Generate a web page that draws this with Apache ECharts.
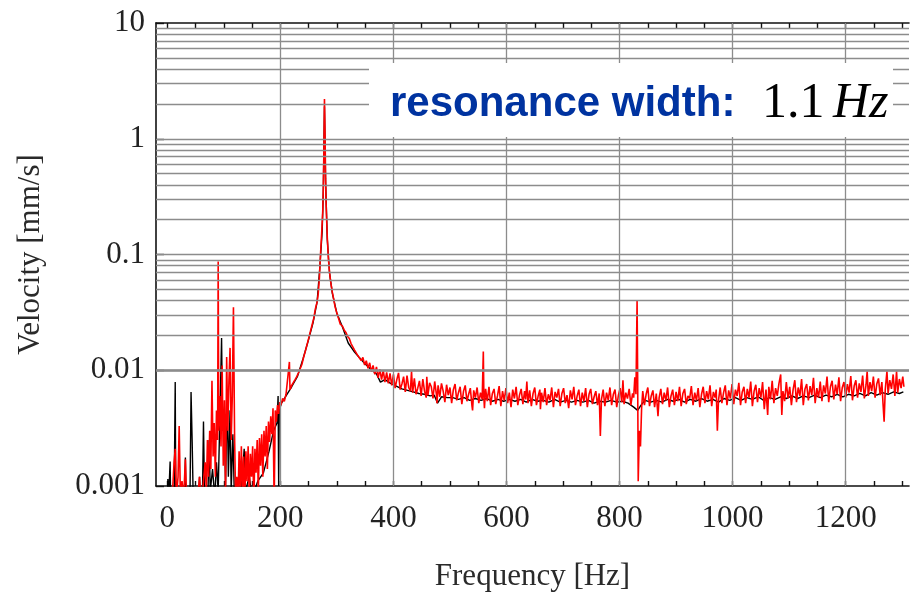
<!DOCTYPE html>
<html>
<head>
<meta charset="utf-8">
<title>Velocity spectrum</title>
<script src="https://cdn.jsdelivr.net/npm/echarts@6.0.0/dist/echarts.min.js"></script>
<style>
  html, body { margin: 0; padding: 0; background: #fff; }
  #chart { width: 910px; height: 597px; }
</style>
</head>
<body>
<div id="chart"></div>
<script>
// axis ticks / grid lines
var freqTicks = [0, 50, 100, 150, 200, 250, 300, 350, 400, 450, 500, 550, 600, 650, 700, 750, 800, 850, 900, 950, 1000, 1050, 1100, 1150, 1200, 1250, 1300];
var freqLabels = [0, 200, 400, 600, 800, 1000, 1200];
var freqGrid = [200, 400, 600, 800, 1000, 1200];
var velGrid = [0.002, 0.003, 0.004, 0.005, 0.006, 0.007, 0.008, 0.009,
    0.01, 0.02, 0.03, 0.04, 0.05, 0.06, 0.07, 0.08, 0.09,
    0.1, 0.2, 0.3, 0.4, 0.5, 0.6, 0.7, 0.8, 0.9,
    1, 2, 3, 4, 5, 6, 7, 8, 9];

// black trace [Hz, mm/s]
var blackTrace = [
    [0, 0.0007], [1, 0.00115], [2, 0.0007], [4, 0.0007], [5, 0.00163], [6, 0.0007], [12, 0.0007], [14, 0.0079], [15, 0.0007],
    [30, 0.0007], [32, 0.00176], [33, 0.0007], [40, 0.0007], [42, 0.0065], [44, 0.0024], [46, 0.0007], [55, 0.0007], [57, 0.0012],
    [58, 0.0007], [62, 0.0007], [64, 0.0036], [66, 0.0007], [72, 0.0009], [74, 0.0025], [76, 0.0009], [80, 0.0014], [84, 0.0008],
    [87, 0.0016], [90, 0.0009], [93, 0.0040], [96, 0.019], [98, 0.0030], [101, 0.0037], [103, 0.0010], [106, 0.0060], [108, 0.0012],
    [111, 0.0045], [113, 0.0009], [116, 0.0028], [119, 0.0007], [128, 0.0007], [133, 0.0013], [136, 0.0021], [138, 0.0009],
    [145, 0.0012], [150, 0.0008], [160, 0.0011], [170, 0.0013], [180, 0.0020], [188, 0.0030], [194, 0.0035], [196, 0.0060],
    [197, 0.0010], [198, 0.0045], [202, 0.0052], [210, 0.0060], [220, 0.0072], [230, 0.0088], [240, 0.0125], [250, 0.0185],
    [258, 0.026], [265, 0.039], [270, 0.08], [274, 0.16], [276, 0.36], [278, 1.9], [280, 0.42], [283, 0.135], [287, 0.069],
    [292, 0.046], [300, 0.031], [310, 0.0235], [320, 0.0172], [330, 0.0146], [340, 0.0128], [350, 0.0113], [360, 0.0102],
    [370, 0.0093], [377, 0.0079], [385, 0.0083], [395, 0.0077], [405, 0.0073], [415, 0.0069], [425, 0.0067], [435, 0.0065],
    [445, 0.0063], [455, 0.0062], [465, 0.0060], [472, 0.0061], [478, 0.0052], [485, 0.0059], [495, 0.0058], [505, 0.0058],
    [515, 0.0056], [525, 0.0058], [535, 0.0055], [545, 0.0057], [555, 0.0055], [565, 0.0057], [575, 0.0054], [585, 0.0056],
    [595, 0.0054], [605, 0.0056], [615, 0.0054], [625, 0.0056], [635, 0.0053], [645, 0.0056], [655, 0.0054], [665, 0.0055],
    [675, 0.0053], [685, 0.0056], [695, 0.0053], [705, 0.0055], [715, 0.0053], [725, 0.0055], [735, 0.0053], [745, 0.0055],
    [755, 0.0052], [765, 0.0054], [775, 0.0053], [785, 0.0055], [795, 0.0053], [805, 0.0054], [815, 0.0052], [825, 0.0048],
    [832, 0.0045], [838, 0.0050], [845, 0.0055], [855, 0.0053], [865, 0.0055], [875, 0.0053], [885, 0.0056], [895, 0.0054],
    [905, 0.0056], [915, 0.0053], [925, 0.0056], [935, 0.0054], [945, 0.0057], [955, 0.0054], [965, 0.0056], [975, 0.0053],
    [985, 0.0057], [995, 0.0055], [1005, 0.0058], [1015, 0.0055], [1025, 0.0058], [1035, 0.0056], [1045, 0.0059], [1055, 0.0055],
    [1065, 0.0058], [1075, 0.0056], [1085, 0.0059], [1095, 0.0057], [1105, 0.0060], [1115, 0.0057], [1125, 0.0060], [1135, 0.0058],
    [1145, 0.0061], [1155, 0.0058], [1165, 0.0061], [1175, 0.0059], [1185, 0.0062], [1195, 0.0059], [1205, 0.0062], [1215, 0.0060],
    [1225, 0.0063], [1235, 0.0060], [1245, 0.0064], [1255, 0.0061], [1265, 0.0064], [1275, 0.0062], [1285, 0.0065], [1295, 0.0063],
    [1302, 0.0065]
];

// red trace [Hz, mm/s]
var redTrace = [
    [8, 0.0007], [12, 0.0016], [14, 0.0021], [16, 0.0008], [19, 0.0012], [21, 0.0033], [23, 0.0009], [26, 0.0011], [29, 0.0008],
    [32, 0.0017], [34, 0.0008], [40, 0.0009], [45, 0.0007], [50, 0.0009], [54, 0.0008], [57, 0.0012], [60, 0.0007], [64, 0.0011],
    [67, 0.0016], [69, 0.0009], [71, 0.0025], [73, 0.0012], [75, 0.0030], [77, 0.0014], [79, 0.0081], [81, 0.0018], [83, 0.0035],
    [85, 0.0012], [87, 0.0045], [89, 0.0025], [90, 0.087], [91, 0.0030], [93, 0.0060], [95, 0.0022], [97, 0.0110], [99, 0.0015],
    [101, 0.0055], [103, 0.0009], [105, 0.0130], [107, 0.0030], [109, 0.0080], [111, 0.0156], [113, 0.0025], [115, 0.0060],
    [117, 0.035], [119, 0.0027], [121, 0.0007], [123, 0.0012], [125, 0.0007], [127, 0.0020], [129, 0.0009], [131, 0.0022],
    [133, 0.0008], [135, 0.0018], [137, 0.0007], [139, 0.0020], [141, 0.0011], [143, 0.0022], [145, 0.0008], [147, 0.0019],
    [149, 0.0012], [151, 0.0022], [153, 0.0007], [155, 0.0021], [157, 0.0013], [159, 0.0025], [161, 0.0009], [163, 0.0026],
    [165, 0.0015], [167, 0.0028], [169, 0.0012], [171, 0.0030], [173, 0.0018], [175, 0.0033], [177, 0.0014], [179, 0.0036],
    [181, 0.0024], [183, 0.0040], [185, 0.0028], [187, 0.0047], [189, 0.0007], [191, 0.0045], [193, 0.0036], [195, 0.0050],
    [197, 0.0042], [199, 0.0053], [201, 0.0050], [204, 0.0057], [207, 0.0054], [210, 0.0062], [213, 0.0060], [216, 0.0118],
    [217, 0.0068], [220, 0.0074], [223, 0.0072], [226, 0.0083], [229, 0.0088], [232, 0.0095], [235, 0.0103], [238, 0.0112],
    [241, 0.0129], [244, 0.0145], [247, 0.0165], [250, 0.0188], [253, 0.0215], [256, 0.0245], [259, 0.0280], [262, 0.034],
    [265, 0.039], [267, 0.046], [269, 0.062], [271, 0.10], [273, 0.15], [275, 0.24], [276, 0.38], [277, 0.80], [278, 2.2],
    [279, 1.1], [280, 0.45], [281, 0.27], [282, 0.19], [283, 0.14], [285, 0.091], [287, 0.070], [289, 0.058], [292, 0.047],
    [294, 0.042], [297, 0.035], [300, 0.031], [303, 0.028], [306, 0.025], [310, 0.0240], [313, 0.0222], [316, 0.0212],
    [319, 0.0196], [322, 0.0188], [325, 0.0170], [328, 0.0165], [331, 0.0150], [334, 0.0150], [337, 0.0134], [340, 0.0138],
    [343, 0.0121], [346, 0.0129], [349, 0.0111], [352, 0.0121], [355, 0.0104], [358, 0.0116], [361, 0.0097], [364, 0.0110],
    [367, 0.0092], [370, 0.0107], [373, 0.0086], [376, 0.0102], [379, 0.0083], [382, 0.0100], [385, 0.0079], [388, 0.0096],
    [391, 0.0077], [394, 0.0094], [397, 0.0074],
    [400, 0.0092], [403, 0.0070], [406, 0.0083], [409, 0.0095], [412, 0.0068], [415, 0.0076], [418, 0.0088], [421, 0.0065],
    [424, 0.0090], [427, 0.0071], [430, 0.0066], [432, 0.0098], [434, 0.0064], [437, 0.0085], [440, 0.0062], [443, 0.0070],
    [446, 0.0081], [449, 0.0060], [452, 0.0084], [455, 0.0066], [458, 0.0058], [459, 0.0088], [461, 0.0061], [464, 0.0078],
    [467, 0.0072], [470, 0.0057], [473, 0.0080], [476, 0.0062], [477, 0.0052], [479, 0.0074], [482, 0.0059], [485, 0.0077],
    [488, 0.0066], [491, 0.0053], [494, 0.0075], [497, 0.0061], [500, 0.0071], [503, 0.0052], [506, 0.0068], [509, 0.0076],
    [512, 0.0055], [515, 0.0064], [518, 0.0072], [521, 0.0051], [524, 0.0066], [527, 0.0074], [530, 0.0054], [533, 0.0062],
    [536, 0.0070], [539, 0.0049], [540, 0.0045], [542, 0.0067], [545, 0.0058], [548, 0.0071], [551, 0.0052], [554, 0.0064],
    [557, 0.0056], [559, 0.0145], [560, 0.0058], [561, 0.0047], [563, 0.0069], [566, 0.0054], [569, 0.0072], [572, 0.0050],
    [575, 0.0063], [578, 0.0069], [581, 0.0051], [584, 0.0060], [587, 0.0073], [590, 0.0049], [593, 0.0066], [596, 0.0055],
    [599, 0.0070], [602, 0.0052], [605, 0.0064], [608, 0.0048], [611, 0.0068], [614, 0.0057], [617, 0.0072], [620, 0.0050],
    [623, 0.0061], [626, 0.0069], [629, 0.0051], [632, 0.0066], [634, 0.0056], [636, 0.0080], [638, 0.0052], [641, 0.0067],
    [644, 0.0049], [647, 0.0063], [650, 0.0071], [653, 0.0050], [656, 0.0060], [659, 0.0068], [660, 0.0046], [662, 0.0064],
    [665, 0.0053], [668, 0.0070], [671, 0.0050], [674, 0.0062], [677, 0.0055], [680, 0.0071], [683, 0.0048], [686, 0.0065],
    [689, 0.0058], [692, 0.0069], [695, 0.0049], [698, 0.0063], [701, 0.0070], [704, 0.0052], [707, 0.0061], [710, 0.0047],
    [713, 0.0067], [716, 0.0056], [719, 0.0072], [722, 0.0050], [725, 0.0060], [728, 0.0068], [731, 0.0049], [734, 0.0064],
    [737, 0.0054], [740, 0.0070], [743, 0.0048], [746, 0.0062], [749, 0.0069], [752, 0.0051], [755, 0.0059], [758, 0.0066],
    [761, 0.0050], [764, 0.0063], [766, 0.0027], [768, 0.0056], [771, 0.0068], [774, 0.0049], [777, 0.0064], [780, 0.0055],
    [783, 0.0071], [786, 0.0050], [789, 0.0062], [792, 0.0068], [795, 0.0048], [798, 0.0061], [801, 0.0070], [804, 0.0053],
    [806, 0.0082], [808, 0.0051], [811, 0.0064], [814, 0.0057], [817, 0.0069], [820, 0.0050], [823, 0.0063], [825, 0.0058],
    [827, 0.0087], [829, 0.0062], [831, 0.040], [832, 0.0090], [833, 0.0011], [835, 0.0030], [837, 0.0022], [839, 0.0047],
    [841, 0.0066], [844, 0.0050], [847, 0.0062], [850, 0.0071], [853, 0.0049], [856, 0.0060], [859, 0.0067], [862, 0.0048],
    [865, 0.0063], [868, 0.0040], [870, 0.0058], [873, 0.0069], [876, 0.0051], [879, 0.0064], [882, 0.0055], [885, 0.0071],
    [888, 0.0048], [891, 0.0060], [894, 0.0068], [897, 0.0050], [900, 0.0065], [903, 0.0054], [906, 0.0072], [909, 0.0049],
    [912, 0.0063], [915, 0.0069], [918, 0.0051], [921, 0.0060], [924, 0.0057], [927, 0.0073], [930, 0.0050], [933, 0.0064],
    [936, 0.0055], [939, 0.0070], [942, 0.0048], [945, 0.0062], [948, 0.0072], [951, 0.0052], [954, 0.0066], [957, 0.0056],
    [960, 0.0074], [963, 0.0049], [966, 0.0065], [969, 0.0058], [971, 0.0068], [973, 0.0030], [975, 0.0055], [978, 0.0071],
    [981, 0.0052], [984, 0.0064], [987, 0.0074], [990, 0.0050], [993, 0.0067], [996, 0.0057], [999, 0.0076], [1002, 0.0051],
    [1005, 0.0068], [1008, 0.0060], [1011, 0.0078], [1014, 0.0050], [1017, 0.0065], [1020, 0.0072], [1023, 0.0052], [1026, 0.0069],
    [1029, 0.0058], [1032, 0.0080], [1035, 0.0049], [1038, 0.0066], [1041, 0.0075], [1044, 0.0053], [1047, 0.0070], [1050, 0.0058],
    [1053, 0.0079], [1056, 0.0046], [1059, 0.0068], [1062, 0.0041], [1064, 0.0072], [1067, 0.0056], [1070, 0.0081], [1073, 0.0052],
    [1076, 0.0070], [1079, 0.0060], [1082, 0.0077], [1085, 0.0092], [1087, 0.0041], [1089, 0.0066], [1092, 0.0054], [1095, 0.0079],
    [1098, 0.0057], [1101, 0.0072], [1104, 0.0050], [1107, 0.0068], [1110, 0.0082], [1113, 0.0053], [1116, 0.0071], [1119, 0.0060],
    [1122, 0.0084], [1125, 0.0050], [1128, 0.0069], [1131, 0.0076], [1134, 0.0055], [1137, 0.0073], [1140, 0.0061], [1143, 0.0086],
    [1146, 0.0052], [1149, 0.0070], [1152, 0.0058], [1155, 0.0080], [1158, 0.0054], [1161, 0.0074], [1164, 0.0063], [1167, 0.0088],
    [1170, 0.0053], [1173, 0.0072], [1176, 0.0081], [1179, 0.0056], [1182, 0.0075], [1185, 0.0062], [1188, 0.0087], [1191, 0.0054],
    [1194, 0.0071], [1197, 0.0079], [1200, 0.0058], [1203, 0.0076], [1206, 0.0064], [1209, 0.0089], [1212, 0.0055], [1215, 0.0073],
    [1218, 0.0082], [1221, 0.0058], [1224, 0.0077], [1227, 0.0065], [1230, 0.0090], [1233, 0.0057], [1236, 0.0075], [1238, 0.0098],
    [1240, 0.0060], [1243, 0.0079], [1246, 0.0066], [1249, 0.0088], [1252, 0.0058], [1255, 0.0076], [1258, 0.0085], [1261, 0.0061],
    [1264, 0.0079], [1266, 0.0052], [1268, 0.0036], [1270, 0.0068], [1273, 0.0098], [1275, 0.0063], [1278, 0.0082], [1281, 0.0069],
    [1284, 0.0092], [1287, 0.0060], [1290, 0.0098], [1292, 0.0064], [1295, 0.0084], [1298, 0.0070], [1301, 0.0088], [1303, 0.0072]
];

var serif = '"Liberation Serif", "Times New Roman", serif';
var gridLineStyle = { color: '#8c8c8c', width: 1.3, type: 'solid' };

//网格线数据
var gridMarks = [];
for (var i = 0; i < freqGrid.length; i++) gridMarks.push({ xAxis: freqGrid[i] });
for (var j = 0; j < velGrid.length; j++) gridMarks.push({ yAxis: velGrid[j] });

var chart = echarts.init(document.getElementById('chart'), null, { renderer: 'canvas' });

var option = {
    animation: false,
    backgroundColor: '#ffffff',
    grid: { left: 156, right: 1, top: 23, bottom: 103, containLabel: false },
    xAxis: [{
        type: 'value', position: 'bottom', min: -20, max: 1312,
        name: 'Frequency [Hz]', nameLocation: 'middle', nameGap: 75,
        nameTextStyle: { fontFamily: serif, fontSize: 31, color: '#2a2a2a' },
        axisLine: { show: true, onZero: false, lineStyle: { color: '#111', width: 1.6 } },
        axisTick: { show: true, inside: true, length: 5, customValues: freqTicks, lineStyle: { color: '#111', width: 1.4 } },
        axisLabel: {
            customValues: freqLabels, margin: 17, fontFamily: serif, fontSize: 31, color: '#222',
            formatter: function (v) { return String(v); }
        },
        splitLine: { show: false }
    }, {
        type: 'value', position: 'top', min: -20, max: 1312,
        axisLine: { show: true, onZero: false, lineStyle: { color: '#111', width: 1.6 } },
        axisTick: { show: true, inside: true, length: 5, customValues: freqTicks, lineStyle: { color: '#111', width: 1.4 } },
        axisLabel: { show: false },
        splitLine: { show: false }
    }],
    yAxis: [{
        type: 'log', logBase: 10, min: 0.001, max: 10,
        name: 'Velocity [mm/s]', nameLocation: 'middle', nameGap: 110,
        nameTextStyle: { fontFamily: serif, fontSize: 31, color: '#2a2a2a' },
        axisLine: { show: true, onZero: false, lineStyle: { color: '#111', width: 1.6 } },
        axisTick: { show: true, inside: true, length: 8, lineStyle: { color: '#111', width: 1.4 } },
        axisLabel: { margin: 11, fontFamily: serif, fontSize: 31, color: '#222' },
        splitLine: { show: false },
        minorTick: { show: false }
    }],
    series: [{
        name: 'grid', type: 'line', data: [], z: 1, silent: true,
        markLine: {
            silent: true, symbol: 'none', animation: false,
            label: { show: false },
            lineStyle: gridLineStyle,
            emphasis: { disabled: true },
            data: gridMarks
        }
    }, {
        name: 'black', type: 'line', data: blackTrace, z: 2,
        showSymbol: false, symbol: 'none', clip: true,
        lineStyle: { color: '#000000', width: 1.4 }
    }, {
        name: 'red', type: 'line', data: redTrace, z: 3,
        showSymbol: false, symbol: 'none', clip: true,
        lineStyle: { color: '#ff0000', width: 1.6 }
    }],
    graphic: [{
        type: 'rect', z: 100,
        shape: { x: 369, y: 63, width: 524, height: 74 },
        style: { fill: '#ffffff' }
    }, {
        type: 'text', z: 101, x: 390, y: 104,
        style: { text: 'resonance width:', fill: '#0033a0', font: 'bold 42px "Liberation Sans", Arial, sans-serif', verticalAlign: 'middle' }
    }, {
        type: 'text', z: 101, x: 762, y: 104,
        style: { text: '1.1', fill: '#000', font: '50px "Liberation Serif", "Times New Roman", serif', verticalAlign: 'middle' }
    }, {
        type: 'text', z: 101, x: 833, y: 104,
        style: { text: 'Hz', fill: '#000', font: 'italic 50px "Liberation Serif", "Times New Roman", serif', verticalAlign: 'middle' }
    }]
};

chart.setOption(option);
</script>
</body>
</html>
